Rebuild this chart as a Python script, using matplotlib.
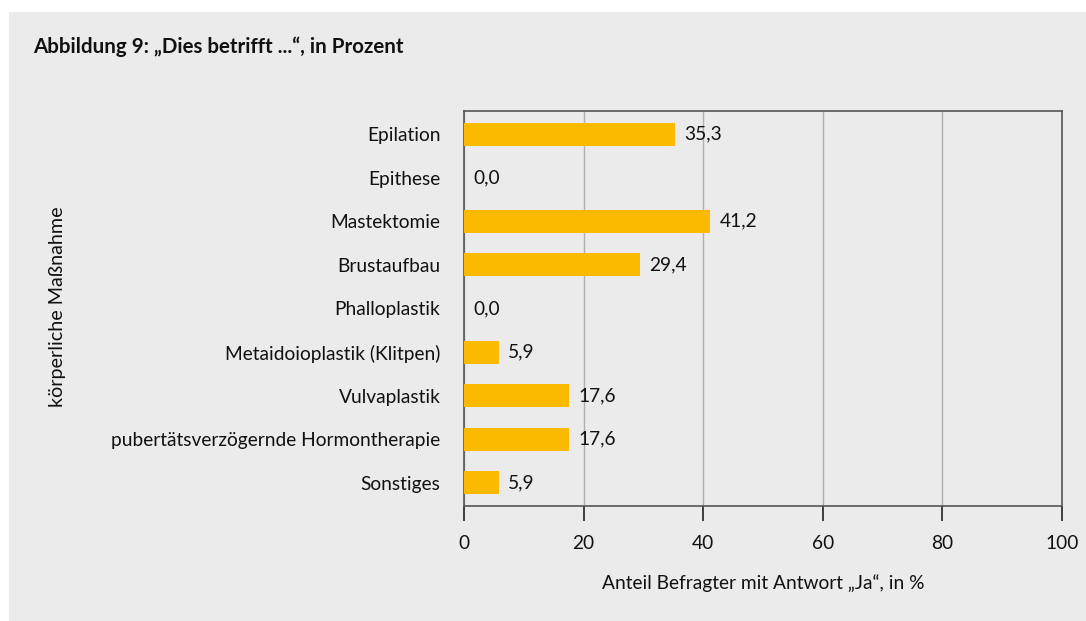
import matplotlib
matplotlib.use("Agg")
import matplotlib.pyplot as plt
from matplotlib.patches import Rectangle

categories = ["Epilation", "Epithese", "Mastektomie", "Brustaufbau", "Phalloplastik",
              "Metaidoioplastik (Klitpen)", "Vulvaplastik",
              "pubertätsverzögernde Hormontherapie", "Sonstiges"]
values = [35.3, 0.0, 41.2, 29.4, 0.0, 5.9, 17.6, 17.6, 5.9]
xticks = [0, 20, 40, 60, 80, 100]

title = "Abbildung 9: „Dies betrifft ...“, in Prozent"
xlabel = "Anteil Befragter mit Antwort „Ja“, in %"
ylabel = "körperliche Maßnahme"

plt.rcParams['font.family'] = ['Lato', 'DejaVu Sans']

W, H = 1086, 621
fig = plt.figure(figsize=(W / 100, H / 100), dpi=100)
fig.patch.set_facecolor("white")
bg = "#EBEBEB"
fig.patches.append(Rectangle((9 / W, 0), 1 - 9 / W, 1 - 12 / H, transform=fig.transFigure,
                             facecolor=bg, edgecolor="none", zorder=-10))

left, right, top, bottom = 464, 1062, 111, 506
ax = fig.add_axes([left / W, 1 - bottom / H, (right - left) / W, (bottom - top) / H])
ax.set_facecolor(bg)

fs = 13.8
ypos = list(range(len(categories)))
ax.barh(ypos, values, height=0.53, color="#FBBA00", zorder=3)
for y, v in zip(ypos, values):
    ax.text(v + 1.5, y, f"{v:.1f}".replace(".", ","), va="center", ha="left",
            fontsize=fs, color="#111111", zorder=4)

ax.set_xlim(0, 100)
ax.set_ylim(8.53, -0.53)
ax.set_yticks(ypos)
ax.set_yticklabels(categories, fontsize=fs, color="#111111")
ax.set_xticks(xticks)
ax.set_xticklabels([str(t) for t in xticks], fontsize=fs, color="#111111")
ax.tick_params(axis="y", length=0, pad=17)
ax.tick_params(axis="x", length=11, width=1.2, color="#222222", pad=10)
ax.grid(axis="x", color="#B0B0B0", linewidth=1, zorder=0)
for s in ax.spines.values():
    s.set_color("#555555")
    s.set_linewidth(1.2)

fig.text((left + right) / 2 / W, 1 - 583 / H, xlabel, ha="center", va="center",
         fontsize=fs, color="#111111")
fig.text(57 / W, 1 - 307 / H, ylabel, rotation=90, ha="center", va="center",
         fontsize=14.2, color="#111111")
fig.text(33 / W, 1 - 47 / H, title, ha="left", va="center", fontsize=14.8,
         fontweight="bold", color="#111111")

fig.savefig("out.png", dpi=100, facecolor=fig.get_facecolor())
